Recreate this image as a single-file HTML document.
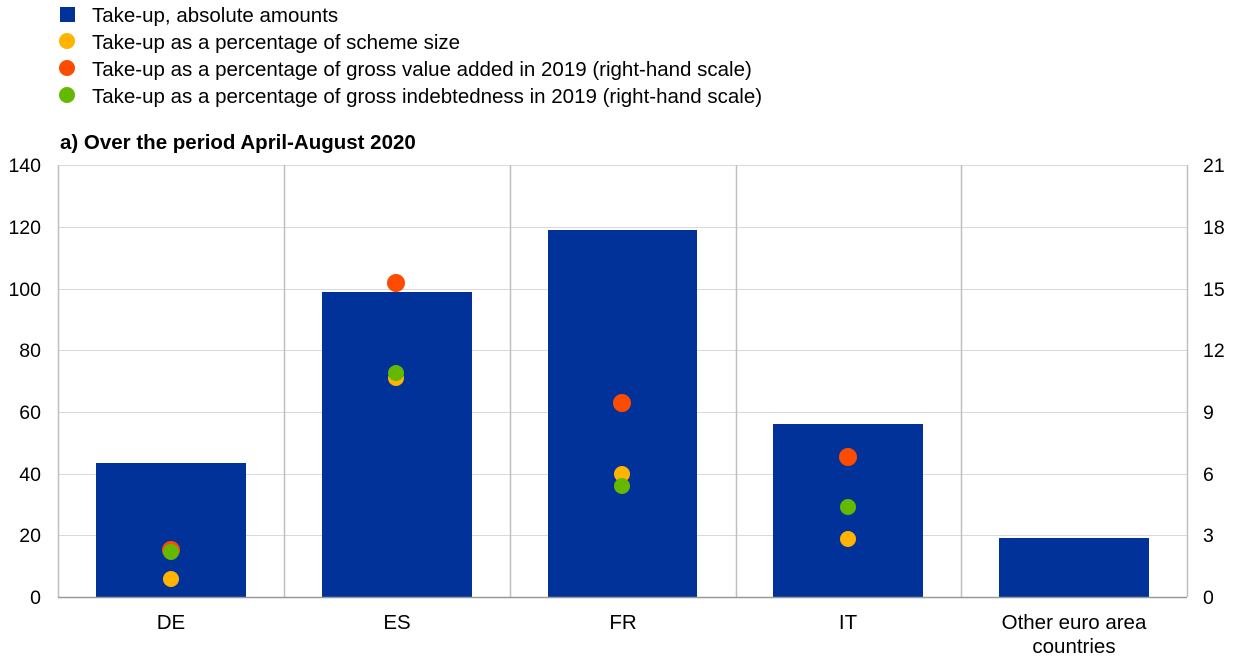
<!DOCTYPE html>
<html><head><meta charset="utf-8"><style>
body{margin:0;background:#fff;}
svg{display:block;font-family:"Liberation Sans",sans-serif;}
</style></head><body>
<svg width="1240" height="663" viewBox="0 0 1240 663">
<g font-size="20.5" fill="#000">
<rect x="60" y="7" width="15" height="15" fill="#003299"/>
<text x="92" y="22">Take-up, absolute amounts</text>
<circle cx="67" cy="41" r="8" fill="#FFB400"/>
<text x="92" y="49">Take-up as a percentage of scheme size</text>
<circle cx="67" cy="68" r="8" fill="#FF4B00"/>
<text x="92" y="76">Take-up as a percentage of gross value added in 2019 (right-hand scale)</text>
<circle cx="67" cy="95" r="8" fill="#65B800"/>
<text x="92" y="103">Take-up as a percentage of gross indebtedness in 2019 (right-hand scale)</text>
<text x="60" y="149" font-weight="bold">a) Over the period April-August 2020</text>
</g>
<g stroke="#d9d9d9" stroke-width="1">
<line x1="58" x2="1187" y1="165.5" y2="165.5"/>
<line x1="58" x2="1187" y1="227.5" y2="227.5"/>
<line x1="58" x2="1187" y1="289.5" y2="289.5"/>
<line x1="58" x2="1187" y1="350.5" y2="350.5"/>
<line x1="58" x2="1187" y1="412.5" y2="412.5"/>
<line x1="58" x2="1187" y1="474.5" y2="474.5"/>
<line x1="58" x2="1187" y1="535.5" y2="535.5"/>
</g>
<g stroke="#bfbfbf" stroke-width="1.5">
<line x1="58.5" x2="58.5" y1="165" y2="597"/>
<line x1="284.5" x2="284.5" y1="165" y2="597"/>
<line x1="510.5" x2="510.5" y1="165" y2="597"/>
<line x1="736.5" x2="736.5" y1="165" y2="597"/>
<line x1="961.5" x2="961.5" y1="165" y2="597"/>
<line x1="1187.5" x2="1187.5" y1="165" y2="597"/>
</g>
<g fill="#003299">
<rect x="96" y="463" width="150" height="134"/>
<rect x="322" y="292" width="150" height="305"/>
<rect x="548" y="230" width="149" height="367"/>
<rect x="773" y="424" width="150" height="173"/>
<rect x="999" y="538" width="150" height="59"/>
</g>
<line x1="58" x2="1187" y1="597.5" y2="597.5" stroke="#999" stroke-width="1.5"/>
<circle cx="171" cy="550" r="9" fill="#FF4B00"/>
<circle cx="171" cy="552" r="8" fill="#65B800"/>
<circle cx="171" cy="579" r="8" fill="#FFB400"/>
<circle cx="396" cy="283" r="9" fill="#FF4B00"/>
<circle cx="396" cy="378" r="8" fill="#FFB400"/>
<circle cx="396" cy="373" r="8" fill="#65B800"/>
<circle cx="622" cy="403" r="9" fill="#FF4B00"/>
<circle cx="622" cy="474" r="8" fill="#FFB400"/>
<circle cx="622" cy="486" r="8" fill="#65B800"/>
<circle cx="848" cy="457" r="9" fill="#FF4B00"/>
<circle cx="848" cy="507" r="8" fill="#65B800"/>
<circle cx="848" cy="539" r="8" fill="#FFB400"/>
<g font-size="19.5" fill="#000" text-anchor="end">
<text x="41" y="172">140</text><text x="41" y="234">120</text><text x="41" y="296">100</text>
<text x="41" y="357">80</text><text x="41" y="419">60</text><text x="41" y="481">40</text>
<text x="41" y="542">20</text><text x="41" y="604">0</text>
</g>
<g font-size="19.5" fill="#000">
<text x="1203" y="172">21</text><text x="1203" y="234">18</text><text x="1203" y="296">15</text>
<text x="1203" y="357">12</text><text x="1203" y="419">9</text><text x="1203" y="481">6</text>
<text x="1203" y="542">3</text><text x="1203" y="604">0</text>
</g>
<g font-size="20.5" fill="#000" text-anchor="middle">
<text x="171" y="629">DE</text><text x="397" y="629">ES</text><text x="623" y="629">FR</text>
<text x="848" y="629">IT</text><text x="1074" y="629">Other euro area</text><text x="1074" y="653">countries</text>
</g>
</svg>
</body></html>
